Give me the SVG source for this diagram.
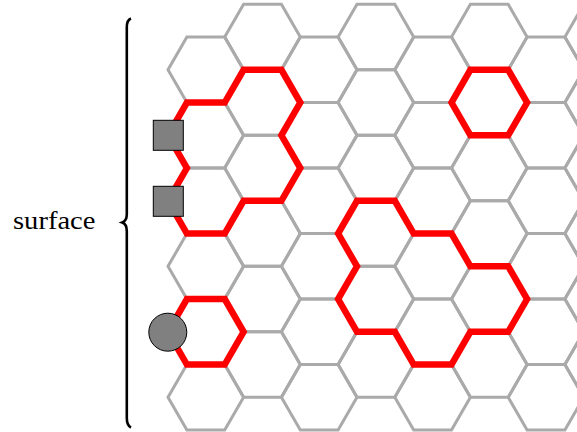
<svg xmlns="http://www.w3.org/2000/svg" xmlns:xlink="http://www.w3.org/1999/xlink" width="577" height="432" viewBox="0 0 577 432">
<style>
.g{fill:none;stroke:#aaaaaa;stroke-width:3}
.r{fill:none;stroke:#ff0000;stroke-width:6.5;stroke-linejoin:miter}
.m{fill:#808080;stroke:#000;stroke-width:1}
.lbl{font-family:"Liberation Serif","DejaVu Serif",serif;font-size:26px;fill:#000}
</style>
<defs>
<path id="hex" d="M-37.8,0 L-18.9,-32.75 L18.9,-32.75 L37.8,0 L18.9,32.75 L-18.9,32.75 Z"/>
</defs>
<rect width="577" height="432" fill="#fff"/>
<g id="lattice" class="g">
<use href="#hex" x="205.8" y="69.8"/><use href="#hex" x="205.8" y="135.3"/><use href="#hex" x="205.8" y="200.8"/><use href="#hex" x="205.8" y="266.3"/><use href="#hex" x="205.8" y="331.8"/><use href="#hex" x="205.8" y="397.3"/>
<use href="#hex" x="319.2" y="69.8"/><use href="#hex" x="319.2" y="135.3"/><use href="#hex" x="319.2" y="200.8"/><use href="#hex" x="319.2" y="266.3"/><use href="#hex" x="319.2" y="331.8"/><use href="#hex" x="319.2" y="397.3"/>
<use href="#hex" x="432.6" y="69.8"/><use href="#hex" x="432.6" y="135.3"/><use href="#hex" x="432.6" y="200.8"/><use href="#hex" x="432.6" y="266.3"/><use href="#hex" x="432.6" y="331.8"/><use href="#hex" x="432.6" y="397.3"/>
<use href="#hex" x="546" y="69.8"/><use href="#hex" x="546" y="135.3"/><use href="#hex" x="546" y="200.8"/><use href="#hex" x="546" y="266.3"/><use href="#hex" x="546" y="331.8"/><use href="#hex" x="546" y="397.3"/>
<use href="#hex" x="262.5" y="37.05"/><use href="#hex" x="262.5" y="102.55"/><use href="#hex" x="262.5" y="168.05"/><use href="#hex" x="262.5" y="233.55"/><use href="#hex" x="262.5" y="299.05"/><use href="#hex" x="262.5" y="364.55"/>
<use href="#hex" x="375.9" y="37.05"/><use href="#hex" x="375.9" y="102.55"/><use href="#hex" x="375.9" y="168.05"/><use href="#hex" x="375.9" y="233.55"/><use href="#hex" x="375.9" y="299.05"/><use href="#hex" x="375.9" y="364.55"/>
<use href="#hex" x="489.3" y="37.05"/><use href="#hex" x="489.3" y="102.55"/><use href="#hex" x="489.3" y="168.05"/><use href="#hex" x="489.3" y="233.55"/><use href="#hex" x="489.3" y="299.05"/><use href="#hex" x="489.3" y="364.55"/>
<use href="#hex" x="602.7" y="37.05"/><use href="#hex" x="602.7" y="102.55"/><use href="#hex" x="602.7" y="168.05"/><use href="#hex" x="602.7" y="233.55"/><use href="#hex" x="602.7" y="299.05"/><use href="#hex" x="602.7" y="364.55"/>
</g>
<g id="clusters" class="r">
<path id="cluster1" d="M186.9,102.55 L224.7,102.55 L243.6,69.8 L281.4,69.8 L300.3,102.55 L281.4,135.3 L300.3,168.05 L281.4,200.8 L243.6,200.8 L224.7,233.55 L186.9,233.55 L168,200.8 L186.9,168.05 L168,135.3 Z"/>
<use id="cluster2" href="#hex" x="205.8" y="331.8"/>
<use id="cluster3" href="#hex" x="489.3" y="102.55"/>
<path id="cluster4" d="M357,200.8 L394.8,200.8 L413.7,233.55 L451.5,233.55 L470.4,266.3 L508.2,266.3 L527.1,299.05 L508.2,331.8 L470.4,331.8 L451.5,364.55 L413.7,364.55 L394.8,331.8 L357,331.8 L338.1,299.05 L357,266.3 L338.1,233.55 Z"/>
</g>
<g id="square1"><rect class="m" x="153.3" y="120.3" width="30" height="30"/></g>
<g id="square2"><rect class="m" x="153.3" y="186.3" width="30" height="30"/></g>
<g id="circle1"><circle class="m" cx="167.8" cy="332.2" r="19"/></g>
<g id="brace"><path d="M131,18.5 C128,19.5 126.8,22.5 126.8,27.5 L126.8,214 C126.8,219 125,221.5 122.3,222.5 C125,223.5 126.8,226 126.8,231 L126.8,418 C126.8,423 128,426 131,427.5" fill="none" stroke="#000" stroke-width="2.6"/></g>
<g id="label"><text class="lbl" x="13" y="229" textLength="82.5" lengthAdjust="spacingAndGlyphs">surface</text></g>
</svg>
